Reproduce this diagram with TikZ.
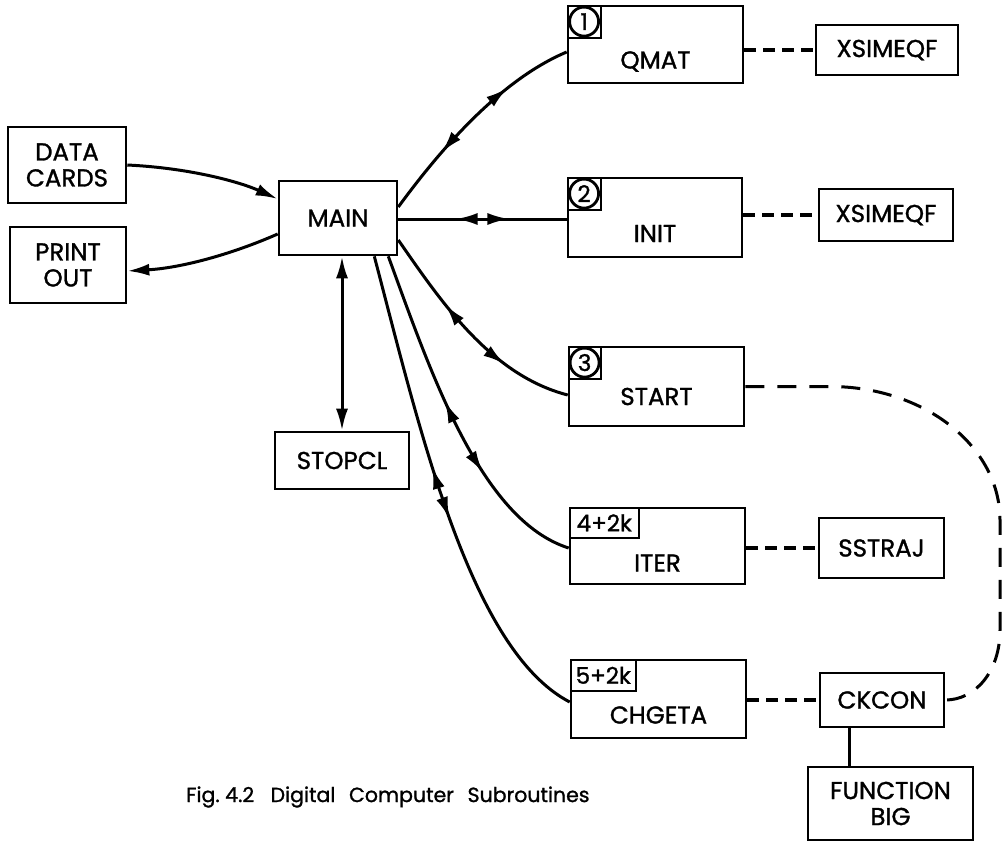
\documentclass[tikz,border=0pt]{standalone}
\usepackage{fontspec}
\setmainfont{Poppins}
\newfontfamily\lblfont{Poppins}[FakeBold=1.2]
\usetikzlibrary{arrows.meta,decorations.markings}
\tikzset{
  box/.style={draw, line width=2.6pt, inner sep=0pt, align=center,
    font=\lblfont\fontsize{24.5}{26}\selectfont},
  lbl/.style={inner sep=0pt, font=\lblfont\fontsize{24.5}{26}\selectfont},
  sq/.style={draw, line width=1.8pt, inner sep=0pt, anchor=north west},
  circ/.style={circle, draw, line width=2.8pt, minimum size=29pt, inner sep=0pt,
    font=\lblfont\fontsize{23}{23}\selectfont},
  tagbox/.style={draw, line width=2.2pt, inner sep=0pt, anchor=north west,
    font=\lblfont\fontsize{23}{23}\selectfont},
  conn/.style={line width=3pt},
  endtip/.style={-{Latex[length=22pt,width=12pt]}},
  bothtip/.style={{Latex[length=22pt,width=12pt]}-{Latex[length=22pt,width=12pt]}},
  twoway/.style 2 args={conn, postaction={decorate}, decoration={markings,
    mark=at position #1 with {\arrowreversed{Latex[length=22pt,width=12pt]}},
    mark=at position #2 with {\arrow{Latex[length=22pt,width=12pt]}}}},
  dashA/.style={line width=3.2pt, dash pattern=on 12pt off 7pt},
  dashB/.style={line width=3pt, dash pattern=on 19pt off 13pt},
}
\begin{document}
\begin{tikzpicture}[x=1pt,y=-1pt]
\useasboundingbox (0,0) rectangle (1002,841);

% left boxes
\node[box, minimum width=118pt, minimum height=76pt] (DATA) at (67,165) {DATA\\CARDS};
\node[box, minimum width=116pt, minimum height=76pt] (PRINT) at (68,265) {PRINT\\OUT};
\node[box, minimum width=118pt, minimum height=74pt] (MAIN) at (338,218) {MAIN};
\node[box, minimum width=134pt, minimum height=57pt] (STOP) at (342,460.5) {STOPCL};

% subroutine boxes
\node[box, minimum width=175pt, minimum height=77pt] (QMAT) at (655.5,44.5) {};
\node[lbl] (QMATt) at ([yshift=-17pt]QMAT.center) {QMAT};
\node[sq, minimum width=33pt, minimum height=32pt] (QMATs) at (QMAT.north west) {};
\node[circ] (QMATc) at (QMATs.center) {1};

\node[box, minimum width=174pt, minimum height=79pt] (INIT) at (655,217.5) {};
\node[lbl] (INITt) at ([yshift=-16pt]INIT.center) {INIT};
\node[sq, minimum width=33pt, minimum height=32pt] (INITs) at (INIT.north west) {};
\node[circ] (INITc) at (INITs.center) {2};

\node[box, minimum width=175pt, minimum height=79pt] (START) at (656.5,386.5) {};
\node[lbl] (STARTt) at ([yshift=-10pt]START.center) {START};
\node[sq, minimum width=32pt, minimum height=32pt] (STARTs) at (START.north west) {};
\node[circ] (STARTc) at (STARTs.center) {3};

\node[box, minimum width=175pt, minimum height=76pt] (ITER) at (657.5,546) {};
\node[lbl] (ITERt) at ([yshift=-17pt]ITER.center) {ITER};
\node[tagbox, minimum width=69pt, minimum height=30pt] (ITERs) at (ITER.north west) {4+2k};

\node[box, minimum width=175pt, minimum height=78pt] (CHG) at (658.5,699) {};
\node[lbl] (CHGt) at ([yshift=-16pt]CHG.center) {CHGETA};
\node[tagbox, minimum width=65pt, minimum height=31pt] (CHGs) at (CHG.north west) {5+2k};

% right boxes
\node[box, minimum width=142pt, minimum height=50pt] (XS1) at (887,50) {XSIMEQF};
\node[box, minimum width=134pt, minimum height=52pt] (XS2) at (886,215) {XSIMEQF};
\node[box, minimum width=125pt, minimum height=60pt] (SST) at (881.5,548) {SSTRAJ};
\node[box, minimum width=124pt, minimum height=54pt] (CK) at (882,700) {CKCON};
\node[box, minimum width=165pt, minimum height=73pt] (FB) at (890.5,803.5) {FUNCTION\\BIG};

% input / output
\draw[conn, endtip] (DATA.east) .. controls (190,168) and (240,182) .. ([yshift=19pt]MAIN.west);
\draw[conn, endtip] ([yshift=-16pt]MAIN.west) .. controls (230,255) and (180,268) .. ([yshift=-6pt]PRINT.east);

% STOPCL
\draw[conn, bothtip] (STOP.north |- MAIN.south) -- (STOP.north);

% two-way connectors
\draw[twoway={0.3}{0.7}] ([yshift=11pt]MAIN.east) .. controls (440,150) and (500,80) .. ([yshift=-7.5pt]QMAT.west);
\draw[twoway={0.34}{0.66}] ([yshift=-1pt]MAIN.east) -- ([yshift=-1pt]MAIN.east -| INIT.west);
\draw[twoway={0.34}{0.70}] ([yshift=-22pt]MAIN.east) .. controls (440,300) and (490,375) .. ([yshift=-8.5pt]START.west);
\draw[twoway={0.44}{0.67}] ([xshift=-10pt]MAIN.south east) .. controls (430,370) and (480,520) .. ([yshift=-2pt]ITER.west);
\draw[twoway={0.44}{0.55}] ([xshift=-24pt]MAIN.south east) .. controls (420,430) and (470,650) .. ([yshift=-3pt]CHG.west);

% dashed links
\draw[dashA] (QMAT.east |- XS1.west) -- (XS1.west);
\draw[dashA] (INIT.east |- XS2.west) -- (XS2.west);
\draw[dashA] (ITER.east |- SST.west) -- (SST.west);
\draw[dashA] (CHG.east |- CK.west) -- (CK.west);
\draw[dashB] (START.east) -- (830,386.5) .. controls (924,386.5) and (1000,446) .. (1000,520)
  -- (1000,630) .. controls (1000,672) and (975,700) .. (CK.east);

% CKCON to FUNCTION BIG
\draw[conn] (FB.north -| 849,0) -- (CK.south -| 849,0);

% caption
\node[anchor=west, inner sep=0pt, font=\lblfont\fontsize{20.5}{22}\selectfont] (cap) at (186,797)
  {Fig.\ 4.2\hspace{0.8em}Digital\hspace{0.4em} Computer\hspace{0.4em} Subroutines};
\end{tikzpicture}
\end{document}
